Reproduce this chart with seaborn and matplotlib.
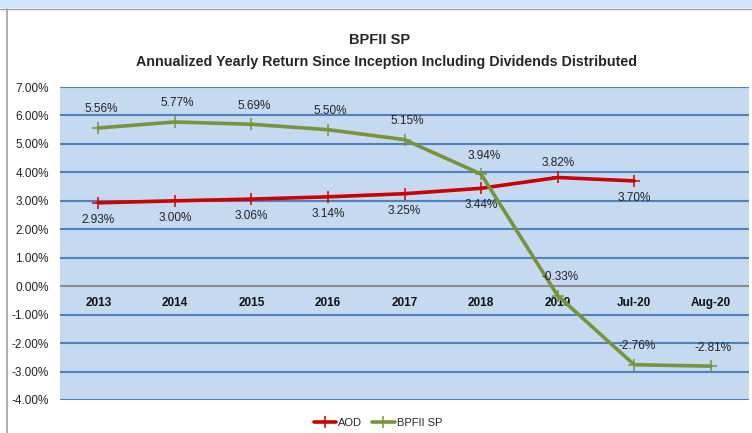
import matplotlib
matplotlib.use("Agg")
import matplotlib.pyplot as plt
import seaborn as sns
import pandas as pd
import numpy as np
from matplotlib.patches import Rectangle
from matplotlib.lines import Line2D

categories = ["2013", "2014", "2015", "2016", "2017", "2018", "2019", "Jul-20", "Aug-20"]
aod = [2.93, 3.00, 3.06, 3.14, 3.25, 3.44, 3.82, 3.70, np.nan]
bpfii = [5.56, 5.77, 5.69, 5.50, 5.15, 3.94, -0.33, -2.76, -2.81]
yticks = [-4, -3, -2, -1, 0, 1, 2, 3, 4, 5, 6, 7]

sns.set_theme(style="white")
plt.rcParams['font.family'] = ['Liberation Sans', 'DejaVu Sans']

df = pd.DataFrame({"cat": categories, "AOD": aod, "BPFII SP": bpfii})
df["pos"] = np.arange(len(categories))

fig = plt.figure(figsize=(7.52, 4.33), dpi=100)
fig.patch.set_facecolor("white")
# screenshot frame
fig.patches.append(Rectangle((0, 1 - 8/433), 1, 8/433, transform=fig.transFigure,
                             facecolor="#CFE6FA", edgecolor="none", zorder=0))
fig.lines.append(Line2D([0, 1], [1 - 9/433, 1 - 9/433], transform=fig.transFigure,
                        color="#A0A0A0", lw=1))
fig.lines.append(Line2D([7/752, 7/752], [0, 1 - 9/433], transform=fig.transFigure,
                        color="#A0A0A0", lw=1.2))

ax = fig.add_axes([60/752, 33/433, 689/752, 313/433])
ax.set_facecolor("#C5D9F1")

red = "#CC0000"
green = "#77933C"
sns.lineplot(data=df, x="pos", y="AOD", ax=ax, color=red, lw=2.6, marker="+",
             markersize=8, markeredgewidth=1.1, markeredgecolor=red, label="AOD", zorder=4)
sns.lineplot(data=df, x="pos", y="BPFII SP", ax=ax, color=green, lw=2.6, marker="+",
             markersize=8, markeredgewidth=1.1, markeredgecolor=green, label="BPFII SP", zorder=4)

ax.set_xlim(-0.5, len(categories) - 0.5)
ax.set_ylim(-4, 7)
ax.set_yticks(yticks)
ax.set_yticklabels([f"{v:.2f}%" for v in yticks], fontsize=8.5, color="#222222")
ax.tick_params(axis="y", length=0, pad=8)
ax.set_xticks([])
ax.set_xlabel("")
ax.set_ylabel("")
for s in ax.spines.values():
    s.set_visible(False)
for v in yticks:
    if v == 0:
        ax.axhline(v, color="#8C8C8C", lw=1.5, zorder=2)
    else:
        ax.axhline(v, color="#4F81BD", lw=1.5, zorder=2)

for i, c in enumerate(categories):
    ax.text(i, -0.6, c, ha="center", va="center", fontsize=8.5, fontweight="bold", color="#111111")

for i, v in enumerate(bpfii):
    ax.annotate(f"{v:.2f}%", (i, v), xytext=(2, 9), textcoords="offset points",
                ha="center", va="bottom", fontsize=8.5, color="#222222", zorder=5)
for i, v in enumerate(aod):
    if np.isnan(v):
        continue
    if categories[i] == "2019":
        ax.annotate(f"{v:.2f}%", (i, v), xytext=(0, 6), textcoords="offset points",
                    ha="center", va="bottom", fontsize=8.5, color="#222222", zorder=5)
    else:
        ax.annotate(f"{v:.2f}%", (i, v), xytext=(0, -8), textcoords="offset points",
                    ha="center", va="top", fontsize=8.5, color="#222222", zorder=5)

if ax.legend_:
    ax.legend_.remove()
handles = [Line2D([], [], color=red, lw=2.6, marker="+", markersize=8, markeredgewidth=1.1),
           Line2D([], [], color=green, lw=2.6, marker="+", markersize=8, markeredgewidth=1.1)]
fig.legend(handles, ["AOD", "BPFII SP"], loc="center", bbox_to_anchor=(378/752, 1 - 423/433),
           ncol=2, frameon=False, fontsize=8, handlelength=2.0, handletextpad=0.2,
           columnspacing=0.9)

fig.text(380/752, 1 - 40/433, "BPFII SP", ha="center", va="center", fontsize=10.5, fontweight="bold")
fig.text(386/752, 1 - 62/433, "Annualized Yearly Return Since Inception Including Dividends Distributed",
         ha="center", va="center", fontsize=10.3, fontweight="bold")

fig.savefig("out.png", dpi=100)
